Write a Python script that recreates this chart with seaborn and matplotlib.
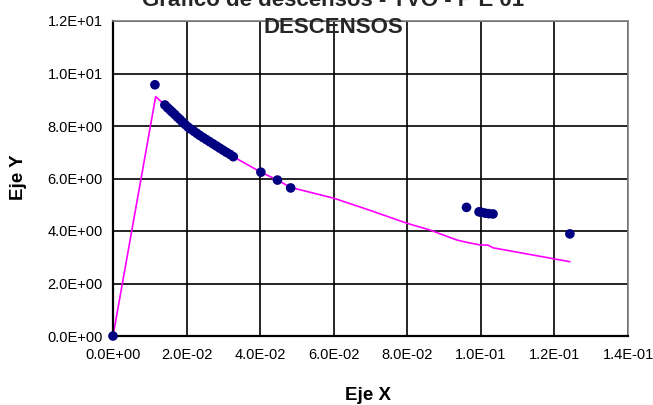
import numpy as np
import pandas as pd
import matplotlib
matplotlib.use("Agg")
import matplotlib.pyplot as plt
import seaborn as sns
from matplotlib.ticker import FuncFormatter

obs_x = [0.0, 0.0114,
         0.0141, 0.0148, 0.0155, 0.0161, 0.0168, 0.0175, 0.0182, 0.0189,
         0.0196, 0.0204, 0.0212, 0.0220, 0.0228, 0.0236, 0.0245, 0.0254,
         0.0263, 0.0272, 0.0281, 0.0290, 0.0299, 0.0308, 0.0318, 0.0327,
         0.0402, 0.0447, 0.0483,
         0.0961, 0.0995, 0.1002, 0.1012, 0.1022, 0.1033,
         0.1242]
obs_y = [0.0, 9.57,
         8.80, 8.70, 8.61, 8.53, 8.44, 8.34, 8.25, 8.15,
         8.06, 7.96, 7.88, 7.80, 7.72, 7.64, 7.56, 7.48,
         7.40, 7.32, 7.24, 7.16, 7.08, 7.00, 6.92, 6.83,
         6.24, 5.94, 5.64,
         4.90, 4.73, 4.71, 4.68, 4.66, 4.65,
         3.89]

# Curva calculada (linea magenta)
calc_x = [0.0, 0.0116, 0.0141, 0.0200, 0.0327, 0.0402, 0.0447, 0.0483,
          0.0600, 0.0700, 0.0800, 0.0861, 0.0934, 0.0961, 0.0997, 0.1020,
          0.1033, 0.1242]
calc_y = [0.0, 9.12, 8.80, 7.98, 6.83, 6.24, 5.94, 5.66,
          5.25, 4.78, 4.29, 4.04, 3.66, 3.57, 3.47, 3.46,
          3.36, 2.83]

x_ticks = [0.0, 0.02, 0.04, 0.06, 0.08, 0.10, 0.12, 0.14]
y_ticks = [0, 2, 4, 6, 8, 10, 12]


def main():
    sns.set_theme(style="white")
    plt.rcParams['font.family'] = ['Liberation Sans', 'DejaVu Sans']

    fig = plt.figure(figsize=(6.53, 4.05), dpi=100)
    ax = fig.add_axes([113 / 653, 1 - 336 / 405, 515 / 653, 315 / 405])

    df_calc = pd.DataFrame({'x': calc_x, 'y': calc_y})
    df_obs = pd.DataFrame({'x': obs_x, 'y': obs_y})

    sns.lineplot(data=df_calc, x='x', y='y', sort=False, estimator=None,
                 color='#FF00FF', linewidth=1.2, ax=ax, zorder=2)
    sns.scatterplot(data=df_obs, x='x', y='y', color='#000080', s=48,
                    edgecolor='none', linewidth=0, ax=ax, zorder=3, clip_on=False)

    ax.set_xlim(0, 0.14)
    ax.set_ylim(0, 12)
    ax.set_xticks(x_ticks)
    ax.set_yticks(y_ticks)
    fmt = FuncFormatter(lambda v, p: "{:.1E}".format(v))
    ax.xaxis.set_major_formatter(fmt)
    ax.yaxis.set_major_formatter(fmt)

    ax.grid(True, color='black', linewidth=1.2)
    ax.set_axisbelow(True)
    ax.tick_params(axis='both', direction='out', length=4.5, width=1.2,
                   color='black', labelsize=10.5, labelcolor='black')
    ax.tick_params(axis='x', pad=4)
    ax.tick_params(axis='y', pad=3)

    for side in ['left', 'bottom']:
        ax.spines[side].set_color('black')
        ax.spines[side].set_linewidth(1.6)
    for side in ['top', 'right']:
        ax.spines[side].set_color('#808080')
        ax.spines[side].set_linewidth(1.2)

    ax.set_xlabel("Eje X", fontsize=13.5, fontweight='bold', color='black')
    ax.set_ylabel("Eje Y", fontsize=13.5, fontweight='bold', color='black')
    ax.xaxis.set_label_coords(0.495, -0.19)
    ax.xaxis.label.set_va('center')
    ax.yaxis.set_label_coords(-0.184, 0.505)
    ax.yaxis.label.set_va('center')

    fig.text(0.51, 1 - 6 / 405, "Grafico de descensos - TVO - P E 01",
             ha='center', va='baseline', fontsize=16, fontweight='bold')
    fig.text(0.51, 1 - 33 / 405, "DESCENSOS",
             ha='center', va='baseline', fontsize=16, fontweight='bold')

    fig.savefig("out.png", dpi=100)
    plt.close(fig)


if __name__ == "__main__":
    main()
